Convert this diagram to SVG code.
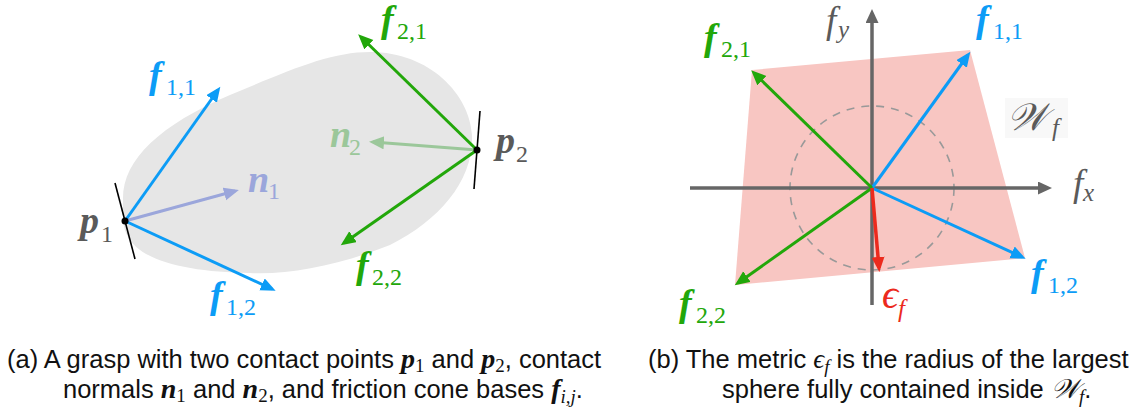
<svg xmlns="http://www.w3.org/2000/svg" width="1139" height="415" viewBox="0 0 1139 415">
<style>
.m{font-family:"Liberation Serif",serif;font-weight:bold;font-style:italic;font-size:38px}
.s{font-family:"Liberation Serif",serif;font-weight:normal;font-style:normal;font-size:24px}
.mi{font-family:"Liberation Serif",serif;font-style:italic;font-size:37px}
.si{font-family:"Liberation Serif",serif;font-style:italic;font-size:25px}
.cap{font-family:"Liberation Sans",Arial,sans-serif;font-size:25.5px;fill:#111}
.cm{font-family:"Liberation Serif",serif;font-weight:bold;font-style:italic;font-size:28px}
.cs{font-family:"Liberation Serif",serif;font-size:19px}
.ci{font-family:"Liberation Serif",serif;font-style:italic;font-size:27px}
.blue{fill:#0c9cf6}.green{fill:#22a70a}.gray{fill:#5a5a5a}
.fb{stroke:#0c9cf6;stroke-width:3;fill:none;marker-end:url(#hb)}
.fg{stroke:#22a70a;stroke-width:3;fill:none;marker-end:url(#hg)}
.tan{stroke:#000;stroke-width:1.6}
</style>
<defs>
<marker id="hb" markerUnits="userSpaceOnUse" markerWidth="16" markerHeight="14" refX="11" refY="6.5" orient="auto"><path d="M0,0 L15,6.5 L0,13 z" fill="#0c9cf6"/></marker>
<marker id="hg" markerUnits="userSpaceOnUse" markerWidth="16" markerHeight="14" refX="11" refY="6.5" orient="auto"><path d="M0,0 L15,6.5 L0,13 z" fill="#22a70a"/></marker>
<marker id="hn1" markerUnits="userSpaceOnUse" markerWidth="16" markerHeight="14" refX="11" refY="6.5" orient="auto"><path d="M0,0 L15,6.5 L0,13 z" fill="#9ba6db"/></marker>
<marker id="hn2" markerUnits="userSpaceOnUse" markerWidth="16" markerHeight="14" refX="11" refY="6.5" orient="auto"><path d="M0,0 L15,6.5 L0,13 z" fill="#9bc79a"/></marker>
<marker id="hr" markerUnits="userSpaceOnUse" markerWidth="16" markerHeight="14" refX="11" refY="6.5" orient="auto"><path d="M0,0 L15,6.5 L0,13 z" fill="#ec2a1d"/></marker>
<marker id="ha" markerUnits="userSpaceOnUse" markerWidth="16" markerHeight="14" refX="4" refY="6.5" orient="auto"><path d="M0,0 L14,6.5 L0,13 z" fill="#666"/></marker>
</defs>

<g id="object">
<path d="M123,200 C122,160 160,125 230,95 C290,70 330,52 370,52 C430,52 470,95 472,135 C474,180 440,220 390,245 C340,265 290,275 250,273 C190,272 140,262 127,235 C122,225 123,212 123,200 Z" fill="#e6e6e6"/>
</g>

<g id="wrench-space">
<polygon points="752,70 970,50 1025,258 735,285" fill="#f8c6c2"/>
<rect x="1005" y="98" width="63" height="40" fill="#f8f8f8"/>
<circle cx="872" cy="188" r="82" fill="none" stroke="#999" stroke-width="1.6" stroke-dasharray="8,7"/>
</g>

<g id="connectors">
<line x1="125" y1="221" x2="235" y2="191" stroke="#9ba6db" stroke-width="3" marker-end="url(#hn1)"/>
<line x1="477" y1="150" x2="373" y2="142" stroke="#9bc79a" stroke-width="3" marker-end="url(#hn2)"/>
<line class="fb" x1="125" y1="221" x2="218" y2="90"/>
<line class="fb" x1="125" y1="221" x2="272" y2="289"/>
<line class="fg" x1="477" y1="150" x2="361" y2="37"/>
<line class="fg" x1="477" y1="150" x2="344" y2="243"/>
<line class="tan" x1="115" y1="183" x2="135" y2="259"/>
<line class="tan" x1="480" y1="111" x2="474" y2="189"/>

<line x1="690" y1="188" x2="1042" y2="188" stroke="#666" stroke-width="3.5" marker-end="url(#ha)"/>
<line x1="872" y1="305" x2="872" y2="19" stroke="#666" stroke-width="3.5" marker-end="url(#ha)"/>
<line class="fb" x1="872" y1="188" x2="968" y2="55"/>
<line class="fb" x1="872" y1="188" x2="1022" y2="257"/>
<line class="fg" x1="872" y1="188" x2="754" y2="73"/>
<line class="fg" x1="872" y1="188" x2="738" y2="283"/>
<line x1="872" y1="188" x2="879" y2="268" stroke="#ec2a1d" stroke-width="3.5" marker-end="url(#hr)"/>
</g>

<g id="p1"><circle cx="125" cy="221" r="3.5" fill="#000"/><text x="80" y="233" class="gray"><tspan class="m">p</tspan><tspan class="s" x="101" y="242">1</tspan></text></g>
<g id="p2"><circle cx="477" cy="150" r="3.5" fill="#000"/><text x="496" y="153" class="gray"><tspan class="m">p</tspan><tspan class="s" x="516" y="162">2</tspan></text></g>
<g id="n1"><text x="248" y="192" fill="#9ba6db"><tspan class="m">n</tspan><tspan class="s" x="268" y="199">1</tspan></text></g>
<g id="n2"><text x="330" y="147" fill="#9bc79a"><tspan class="m">n</tspan><tspan class="s" x="349" y="155">2</tspan></text></g>
<g id="f11-left"><text x="149" y="88" class="blue"><tspan class="m">f</tspan><tspan class="s" x="166" y="95">1,1</tspan></text></g>
<g id="f12-left"><text x="210" y="308" class="blue"><tspan class="m">f</tspan><tspan class="s" x="226" y="315">1,2</tspan></text></g>
<g id="f21-left"><text x="381" y="32" class="green"><tspan class="m">f</tspan><tspan class="s" x="397" y="39">2,1</tspan></text></g>
<g id="f22-left"><text x="356" y="278" class="green"><tspan class="m">f</tspan><tspan class="s" x="372" y="285">2,2</tspan></text></g>

<g id="fy"><text x="826" y="33" class="gray"><tspan class="mi">f</tspan><tspan class="si" x="838" y="38">y</tspan></text></g>
<g id="fx"><text x="1073" y="196" class="gray"><tspan class="mi">f</tspan><tspan class="si" x="1083" y="201">x</tspan></text></g>
<g id="f11-right"><text x="976" y="32" class="blue"><tspan class="m">f</tspan><tspan class="s" x="993" y="39">1,1</tspan></text></g>
<g id="f21-right"><text x="704" y="50" class="green"><tspan class="m">f</tspan><tspan class="s" x="721" y="57">2,1</tspan></text></g>
<g id="f12-right"><text x="1031" y="286" class="blue"><tspan class="m">f</tspan><tspan class="s" x="1048" y="293">1,2</tspan></text></g>
<g id="f22-right"><text x="679" y="316" class="green"><tspan class="m">f</tspan><tspan class="s" x="696" y="323">2,2</tspan></text></g>
<g id="eps"><text x="882" y="308" fill="#ec2a1d"><tspan class="mi" style="font-size:40px">ϵ</tspan><tspan class="si" x="898" y="317">f</tspan></text></g>
<g id="Wf"><text x="1007" y="130" class="gray"><tspan class="mi" style="font-size:38px">𝒲</tspan><tspan class="si" x="1052" y="136">f</tspan></text></g>

<g id="caption-a" class="cap">
<text x="7" y="368">(a) A grasp with two contact points <tspan class="cm">p</tspan><tspan class="cs" dy="4">1</tspan><tspan dy="-4"> and </tspan><tspan class="cm">p</tspan><tspan class="cs" dy="4">2</tspan><tspan dy="-4">, contact</tspan></text>
<text x="63" y="398">normals <tspan class="cm">n</tspan><tspan class="cs" dy="4">1</tspan><tspan dy="-4"> and </tspan><tspan class="cm">n</tspan><tspan class="cs" dy="4">2</tspan><tspan dy="-4">, and friction cone bases </tspan><tspan class="cm">f</tspan><tspan class="cs" style="font-style:italic" dy="5">i,j</tspan><tspan dy="-5">.</tspan></text>
</g>
<g id="caption-b" class="cap">
<text x="648" y="368">(b) The metric <tspan class="ci">ϵ</tspan><tspan class="cs" style="font-style:italic" dy="5">f</tspan><tspan dy="-5"> is the radius of the largest</tspan></text>
<text x="722" y="398">sphere fully contained inside <tspan class="ci">𝒲</tspan><tspan class="cs" style="font-style:italic" dy="5">f</tspan><tspan dy="-5">.</tspan></text>
</g>
</svg>
